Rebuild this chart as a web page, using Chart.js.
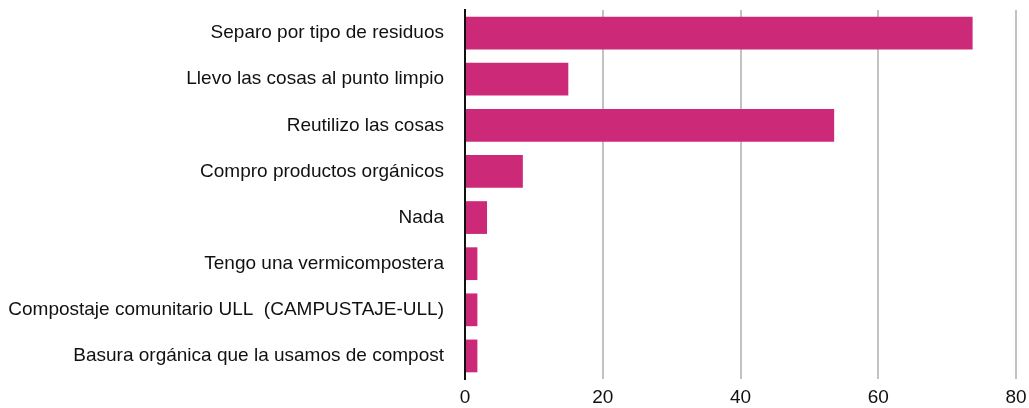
<!DOCTYPE html>
<html>
<head>
<meta charset="utf-8">
<script src="https://cdn.jsdelivr.net/npm/chart.js@4/dist/chart.umd.min.js"></script>
<style>
  html, body { margin: 0; padding: 0; background: #fff; }
  #wrap { width: 1029px; height: 408px; position: relative; }
</style>
</head>
<body>
<div id="wrap"><canvas id="chart"></canvas></div>
<script>
// answers (categories) and their values
const categories = [
    'Separo por tipo de residuos',
    'Llevo las cosas al punto limpio',
    'Reutilizo las cosas',
    'Compro productos orgánicos',
    'Nada',
    'Tengo una vermicompostera',
    'Compostaje comunitario ULL  (CAMPUSTAJE-ULL)',
    'Basura orgánica que la usamos de compost'
];
const values = [73.7, 15.0, 53.6, 8.4, 3.2, 1.8, 1.8, 1.8];
const xTicks = [0, 20, 40, 60, 80];

const barColor = '#cc2a79';
const gridColor = '#c2c2c2';
const labelFont = { family: 'Liberation Sans, Arial, sans-serif', size: 19 };

var ctx = document.getElementById('chart').getContext('2d');

new Chart(ctx, {
    type: 'bar',
    data: {
        labels: categories,
        datasets: [
            {
                data: values,
                backgroundColor: barColor,
                borderWidth: 0,
                categoryPercentage: 1,
                barPercentage: 0.71,
            },
        ],
    },
    options: {
        indexAxis: 'y',
        responsive: true,
        maintainAspectRatio: false,
        animation: false,
        layout: {
            padding: { top: 10, right: 13, bottom: 0, left: 0 },
        },
        plugins: {
            legend: { display: false },
            tooltip: { enabled: false },
        },
        scales: {
            x: {
                min: 0,
                max: 80,
                afterBuildTicks: function (axis) {
                    axis.ticks = xTicks.map(v => ({ value: v }));
                },
                afterFit: function (axis) {
                    axis.height = 29;
                    axis.paddingLeft = 0;
                    axis.paddingRight = 0;
                },
                border: { display: false },
                grid: {
                    drawTicks: false,
                    lineWidth: 2,
                    color: function (c) {
                        return c.tick && c.tick.value === 0 ? 'rgba(0,0,0,0)' : gridColor;
                    },
                },
                ticks: {
                    padding: 7,
                    color: '#111',
                    font: labelFont,
                },
            },
            y: {
                afterFit: function (axis) {
                    axis.width = 465;
                    axis.paddingTop = 0;
                    axis.paddingBottom = 0;
                },
                border: { display: true, color: '#111', width: 2 },
                grid: { display: false, drawTicks: false },
                ticks: {
                    padding: 21,
                    color: '#111',
                    font: labelFont,
                },
            },
        },
    },
});
</script>
</body>
</html>
